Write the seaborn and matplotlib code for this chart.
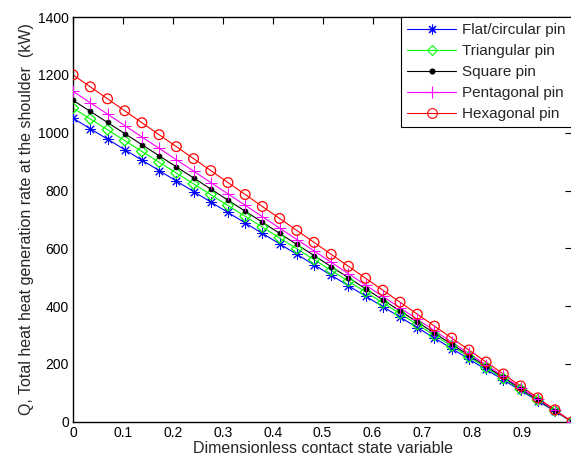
import numpy as np
import pandas as pd
import seaborn as sns
import matplotlib.pyplot as plt
from matplotlib.lines import Line2D

sns.set_style("white")
plt.rcParams['font.family'] = ['Liberation Sans', 'DejaVu Sans']

# contact state variable (30 points)
delta = [0, 0.0345, 0.069, 0.1034, 0.1379, 0.1724, 0.2069, 0.2414, 0.2759, 0.3103,
         0.3448, 0.3793, 0.4138, 0.4483, 0.4828, 0.5172, 0.5517, 0.5862, 0.6207, 0.6552,
         0.6897, 0.7241, 0.7586, 0.7931, 0.8276, 0.8621, 0.8966, 0.9310, 0.9655, 1.0]

q_flat = [1050, 1013.8, 977.6, 941.4, 905.2, 869.0, 832.8, 796.6, 760.3, 724.1,
          687.9, 651.7, 615.5, 579.3, 543.1, 506.9, 470.7, 434.5, 398.3, 362.1,
          325.9, 289.7, 253.4, 217.2, 181.0, 144.8, 108.6, 72.4, 36.2, 0]
q_tri = [1085, 1047.6, 1010.2, 972.8, 935.3, 897.9, 860.5, 823.1, 785.7, 748.3,
         710.9, 673.4, 636.0, 598.6, 561.2, 523.8, 486.4, 449.0, 411.6, 374.1,
         336.7, 299.3, 261.9, 224.5, 187.1, 149.7, 112.2, 74.8, 37.4, 0]
q_square = [1112, 1073.7, 1035.3, 997.0, 958.6, 920.3, 881.9, 843.6, 805.2, 766.9,
            728.6, 690.2, 651.9, 613.5, 575.2, 536.8, 498.5, 460.1, 421.8, 383.4,
            345.1, 306.8, 268.4, 230.1, 191.7, 153.4, 115.0, 76.7, 38.3, 0]
q_penta = [1143, 1103.6, 1064.2, 1024.8, 985.3, 945.9, 906.5, 867.1, 827.7, 788.3,
           748.9, 709.4, 670.0, 630.6, 591.2, 551.8, 512.4, 473.0, 433.6, 394.1,
           354.7, 315.3, 275.9, 236.5, 197.1, 157.7, 118.2, 78.8, 39.4, 0]
q_hexa = [1200, 1158.6, 1117.2, 1075.9, 1034.5, 993.1, 951.7, 910.3, 869.0, 827.6,
          786.2, 744.8, 703.4, 662.1, 620.7, 579.3, 537.9, 496.6, 455.2, 413.8,
          372.4, 331.0, 289.7, 248.3, 206.9, 165.5, 124.1, 82.8, 41.4, 0]

labels = ["Flat/circular pin", "Triangular pin", "Square pin", "Pentagonal pin", "Hexagonal pin"]

# (values, colour, marker, marker size, filled)
series = [
    (q_flat, "#0000ff", (8, 2, 0), 7.0, True),
    (q_tri, "#00ff00", "D", 5.5, False),
    (q_square, "black", "o", 3.6, True),
    (q_penta, "#ff00ff", "+", 8.5, True),
    (q_hexa, "#ff0000", "o", 7.0, False),
]

fig = plt.figure(figsize=(5.71, 4.61), dpi=100)
ax = fig.add_axes([0.128, 0.085, 0.874, 0.878])

handles = []
for (vals, col, mk, ms, filled), lab in zip(series, labels):
    sns.lineplot(x=delta, y=vals, ax=ax, color=col, lw=0.8, sort=False)
    if mk in ("+", (8, 2, 0)):
        sns.scatterplot(x=delta, y=vals, ax=ax, marker=mk, s=ms ** 2, color=col,
                        linewidth=0.7, zorder=3)
    elif filled:
        sns.scatterplot(x=delta, y=vals, ax=ax, marker=mk, s=ms ** 2, color=col,
                        edgecolor=col, linewidth=0.5, zorder=3)
    else:
        sns.scatterplot(x=delta, y=vals, ax=ax, marker=mk, s=ms ** 2, facecolors="none",
                        edgecolor=col, linewidth=0.9, zorder=3)
    handles.append(Line2D([], [], color=col, lw=0.8, marker=mk, markersize=ms,
                          markerfacecolor=col if filled else "none",
                          markeredgecolor=col, markeredgewidth=0.8))

ax.set_xlim(0, 1)
ax.set_ylim(0, 1400)
ax.set_xticks([0, 0.1, 0.2, 0.3, 0.4, 0.5, 0.6, 0.7, 0.8, 0.9])
ax.set_xticklabels(["0", "0.1", "0.2", "0.3", "0.4", "0.5", "0.6", "0.7", "0.8", "0.9"])
ax.set_yticks(range(0, 1401, 200))
ax.tick_params(direction="in", top=True, right=True, length=5, width=0.8,
               labelsize=10, colors="black", pad=3)
for s in ax.spines.values():
    s.set_color("black")
    s.set_linewidth(1.0)

ax.set_xlabel("Dimensionless contact state variable", fontsize=11.5, labelpad=1)
ax.set_ylabel("Q, Total heat heat generation rate at the shoulder  (kW)", fontsize=11.5, labelpad=3)

leg = ax.legend(handles, labels, loc="upper right", borderaxespad=0, fancybox=False,
                edgecolor="black", fontsize=11, handlelength=3.2, labelspacing=0.45,
                borderpad=0.42, handletextpad=0.4, framealpha=1)
leg.get_frame().set_linewidth(0.8)

fig.savefig("out.png", dpi=100)
